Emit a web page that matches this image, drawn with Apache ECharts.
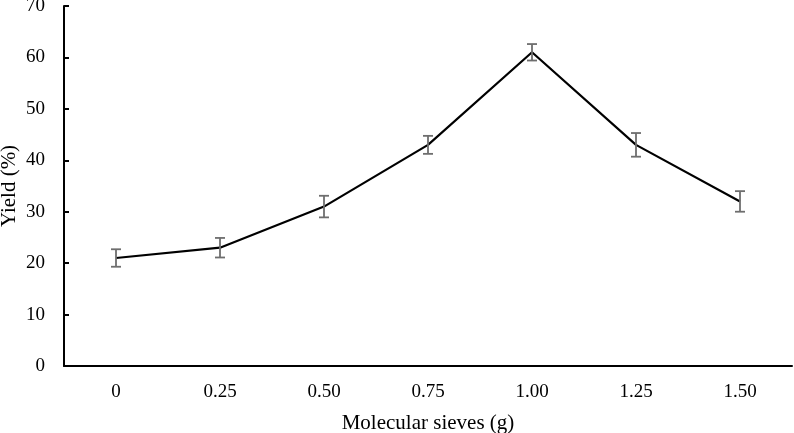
<!DOCTYPE html>
<html>
<head>
<meta charset="utf-8">
<script src="https://cdn.jsdelivr.net/npm/echarts@6/dist/echarts.min.js"></script>
<style>html,body{margin:0;padding:0;background:#fff;}#c{width:794px;height:433px;}</style>
</head>
<body>
<div id="c"></div>
<script>
var categories = ['0', '0.25', '0.50', '0.75', '1.00', '1.25', '1.50'];
var yieldValues = [21, 23, 31, 43, 61, 43, 32];
var errorValues = [1.7, 1.9, 2.1, 1.75, 1.6, 2.3, 2.0];
var yTicks = [0, 10, 20, 30, 40, 50, 60, 70];

var errData = categories.map(function (c, i) {
  return [i, yieldValues[i] - errorValues[i], yieldValues[i] + errorValues[i]];
});

var font = '"Liberation Serif", "Times New Roman", serif';
var chart = echarts.init(document.getElementById('c'));
chart.setOption({
  animation: false,
  backgroundColor: '#fff',
  grid: { left: 64, right: 2, top: 6, bottom: 67, containLabel: false, outerBoundsMode: 'none' },
  xAxis: {
    type: 'category',
    data: categories,
    boundaryGap: true,
    name: 'Molecular sieves (g)',
    nameLocation: 'middle',
    nameGap: 47,
    nameMoveOverlap: false,
    nameTextStyle: { fontFamily: font, fontSize: 21, color: '#000' },
    axisLine: { lineStyle: { color: '#000', width: 2 } },
    axisTick: { inside: true, alignWithLabel: true, length: 4, lineStyle: { color: '#000', width: 2 } },
    axisLabel: { fontFamily: font, fontSize: 19, color: '#000', margin: 17 }
  },
  yAxis: {
    type: 'value',
    min: yTicks[0],
    max: yTicks[yTicks.length - 1],
    interval: 10,
    name: 'Yield (%)',
    nameLocation: 'middle',
    nameGap: 44,
    nameMoveOverlap: false,
    nameTextStyle: { fontFamily: font, fontSize: 21, color: '#000' },
    axisLine: { show: true, lineStyle: { color: '#000', width: 2 } },
    axisTick: { show: true, inside: true, length: 5, lineStyle: { color: '#000', width: 2 } },
    axisLabel: { fontFamily: font, fontSize: 19, color: '#000', margin: 19 },
    splitLine: { show: false }
  },
  series: [
    {
      type: 'line',
      data: yieldValues,
      symbol: 'none',
      lineStyle: { color: '#000', width: 2.2 },
      z: 3
    },
    {
      type: 'custom',
      data: errData,
      z: 4,
      renderItem: function (params, api) {
        var x = api.value(0);
        var lo = api.coord([x, api.value(1)]);
        var hi = api.coord([x, api.value(2)]);
        var w = 5;
        var st = { stroke: '#6e6e6e', lineWidth: 1.8, fill: null };
        return {
          type: 'group',
          children: [
            { type: 'line', shape: { x1: lo[0], y1: lo[1], x2: hi[0], y2: hi[1] }, style: st },
            { type: 'line', shape: { x1: lo[0] - w, y1: lo[1], x2: lo[0] + w, y2: lo[1] }, style: st },
            { type: 'line', shape: { x1: hi[0] - w, y1: hi[1], x2: hi[0] + w, y2: hi[1] }, style: st }
          ]
        };
      }
    }
  ]
});
</script>
</body>
</html>
